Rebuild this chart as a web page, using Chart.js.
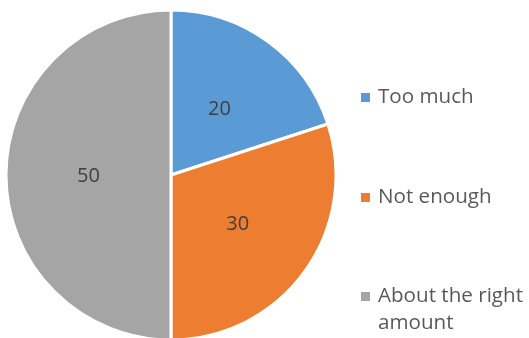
<!DOCTYPE html>
<html>
<head>
<meta charset="utf-8">
<script src="https://cdn.jsdelivr.net/npm/chart.js@4/dist/chart.umd.min.js"></script>
<style>
  html, body { margin: 0; padding: 0; background: #fff; overflow: hidden; }
  #wrap { position: relative; width: 529px; height: 338px; }
</style>
</head>
<body>
<div id="wrap"><canvas id="pieChart"></canvas></div>
<script>
// data
const categories = ['Too much', 'Not enough', 'About the right amount'];
const legendLines = [['Too much'], ['Not enough'], ['About the right', 'amount']];
const values = [20, 30, 50];
const colors = ['#5B9BD5', '#ED7D31', '#A5A5A5'];

const FONT = '"Open Sans", "Liberation Sans", sans-serif';

// values inside the slices + legend on the right, drawn on the canvas
const labelsPlugin = {
    id: 'labelsPlugin',
    afterDatasetsDraw(chart) {
        const ctx = chart.ctx;
        const meta = chart.getDatasetMeta(0);
        ctx.save();
        ctx.font = '20px ' + FONT;
        ctx.fillStyle = '#404040';
        ctx.textAlign = 'center';
        ctx.textBaseline = 'middle';
        meta.data.forEach((arc, i) => {
            const p = arc.tooltipPosition();
            ctx.fillText(String(values[i]), p.x, p.y + 1);
        });

        // legend
        const baselines = [103, 203, 302];
        ctx.font = '20.6px ' + FONT;
        ctx.textAlign = 'left';
        ctx.textBaseline = 'alphabetic';
        legendLines.forEach((lines, i) => {
            ctx.fillStyle = colors[i];
            ctx.fillRect(361, baselines[i] - 10, 9, 9);
            ctx.fillStyle = '#595959';
            lines.forEach((t, j) => {
                ctx.fillText(t, 378, baselines[i] + j * 27);
            });
        });
        ctx.restore();
    }
};

new Chart(document.getElementById('pieChart'), {
    type: 'pie',
    data: {
        labels: categories,
        datasets: [{
            data: values,
            backgroundColor: colors,
            borderColor: '#ffffff',
            borderWidth: 3
        }]
    },
    options: {
        responsive: true,
        maintainAspectRatio: false,
        animation: false,
        radius: 165,
        layout: { padding: { left: 6, right: 193, top: 12, bottom: 0 } },
        plugins: {
            legend: { display: false },
            tooltip: { enabled: false }
        }
    },
    plugins: [labelsPlugin]
});
</script>
</body>
</html>
